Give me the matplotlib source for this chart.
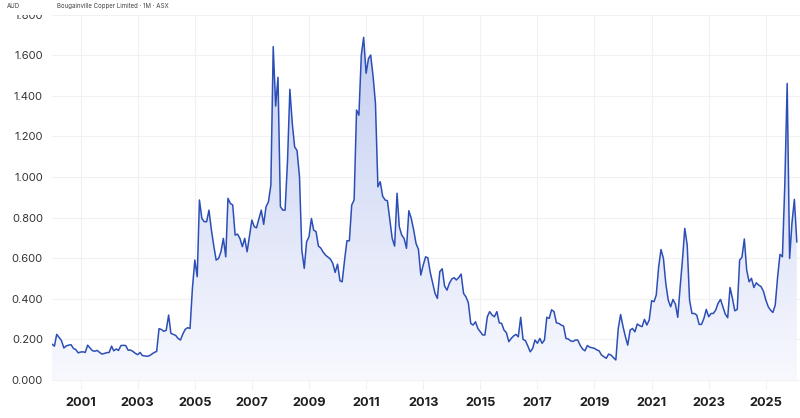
import matplotlib
matplotlib.use('Agg')
import matplotlib.pyplot as plt
import matplotlib.dates as mdates
from matplotlib.colors import LinearSegmentedColormap
from matplotlib.patches import Polygon, Rectangle
import numpy as np
import pandas as pd

plt.rcParams['font.family'] = ['Inter', 'DejaVu Sans']

# monthly closes (AUD), first month Jan 2000
start_month = '2000-01-01'
prices_2000s = [
    0.177, 0.167, 0.225, 0.210, 0.194, 0.158, 0.168, 0.172, 0.174, 0.156, 0.150, 0.134,
    0.138, 0.139, 0.136, 0.172, 0.158, 0.145, 0.142, 0.146, 0.136, 0.128, 0.131, 0.135,
    0.136, 0.167, 0.144, 0.153, 0.146, 0.170, 0.171, 0.170, 0.147, 0.148, 0.141, 0.132,
    0.125, 0.136, 0.121, 0.119, 0.117, 0.120, 0.128, 0.136, 0.141, 0.253, 0.249, 0.240,
    0.245, 0.320, 0.230, 0.225, 0.220, 0.205, 0.197, 0.227, 0.250, 0.258, 0.254, 0.450,
    0.591, 0.509, 0.887, 0.796, 0.780, 0.780, 0.837, 0.740, 0.660, 0.591, 0.599, 0.632,
    0.698, 0.607, 0.895, 0.870, 0.862, 0.714, 0.719, 0.698, 0.657, 0.698, 0.632, 0.710,
    0.788, 0.755, 0.750, 0.795, 0.837, 0.767, 0.854, 0.878, 0.961, 1.642, 1.350, 1.491,
    0.854, 0.837, 0.837, 1.080, 1.432, 1.264, 1.149, 1.130, 1.002, 0.640, 0.550, 0.681,
    0.706, 0.796, 0.739, 0.731, 0.660, 0.650, 0.630, 0.615, 0.605, 0.596, 0.575, 0.530,
]
prices_2010s = [
    0.571, 0.489, 0.484, 0.591, 0.686, 0.686, 0.862, 0.887, 1.330, 1.305, 1.601, 1.688,
    1.511, 1.584, 1.601, 1.494, 1.363, 0.952, 0.977, 0.906, 0.887, 0.883, 0.791, 0.698,
    0.660, 0.920, 0.755, 0.714, 0.698, 0.649, 0.834, 0.796, 0.739, 0.673, 0.643, 0.517,
    0.567, 0.607, 0.602, 0.530, 0.480, 0.427, 0.402, 0.534, 0.548, 0.463, 0.443, 0.476,
    0.498, 0.504, 0.493, 0.505, 0.522, 0.427, 0.410, 0.381, 0.279, 0.271, 0.287, 0.254,
    0.238, 0.222, 0.222, 0.312, 0.337, 0.320, 0.312, 0.337, 0.282, 0.279, 0.246, 0.233,
    0.189, 0.205, 0.217, 0.225, 0.213, 0.309, 0.200, 0.194, 0.167, 0.139, 0.156, 0.197,
    0.181, 0.205, 0.181, 0.197, 0.309, 0.304, 0.346, 0.337, 0.282, 0.279, 0.271, 0.266,
    0.205, 0.202, 0.193, 0.190, 0.197, 0.197, 0.172, 0.153, 0.144, 0.170, 0.162, 0.159,
    0.156, 0.148, 0.144, 0.123, 0.115, 0.107, 0.128, 0.123, 0.110, 0.099, 0.254, 0.323,
]
prices_2020s = [
    0.263, 0.213, 0.172, 0.246, 0.254, 0.238, 0.276, 0.268, 0.263, 0.299, 0.271, 0.296,
    0.391, 0.386, 0.419, 0.558, 0.643, 0.599, 0.476, 0.394, 0.361, 0.397, 0.374, 0.309,
    0.460, 0.600, 0.747, 0.665, 0.394, 0.328, 0.328, 0.320, 0.274, 0.274, 0.304, 0.348,
    0.312, 0.328, 0.328, 0.345, 0.378, 0.397, 0.361, 0.325, 0.307, 0.456, 0.402, 0.341,
    0.348, 0.591, 0.604, 0.695, 0.542, 0.484, 0.501, 0.456, 0.479, 0.468, 0.460, 0.438,
    0.394, 0.361, 0.345, 0.333, 0.369, 0.509, 0.619, 0.607, 0.968, 1.461, 0.599, 0.772,
    0.890, 0.681,
]
tick_years = list(range(2001, 2027, 2))
y_ticks = [0.0, 0.2, 0.4, 0.6, 0.8, 1.0, 1.2, 1.4, 1.6, 1.8]
currency = 'AUD'
title = 'Bougainville Copper Limited · 1M · ASX'

prices = np.array(prices_2000s + prices_2010s + prices_2020s)
dates = pd.date_range(start=start_month, periods=len(prices), freq='MS')
x = mdates.date2num(dates)

line_col = '#2c4fb6'

fig = plt.figure(figsize=(8, 4.18), dpi=100)
ax = fig.add_axes([52/800, 28/418, 748/800, 377/418])

# gradient fill under the curve
grad = np.linspace(0, 1, 256).reshape(-1, 1)
cmap = LinearSegmentedColormap.from_list('fill', ['#f8f9fe', '#c3cdf1'])
im = ax.imshow(grad, extent=[x[0], x[-1], 0, 1.75], origin='lower', aspect='auto',
               cmap=cmap, zorder=1, interpolation='bilinear')
verts = np.column_stack([np.r_[x[0], x, x[-1]], np.r_[0, prices, 0]])
poly = Polygon(verts, closed=True, facecolor='none', edgecolor='none')
ax.add_patch(poly)
im.set_clip_path(poly)

ax.plot(x, prices, color=line_col, lw=1.1, zorder=3)

ax.set_xlim(mdates.date2num(pd.Timestamp('2000-01-01')), mdates.date2num(pd.Timestamp('2026-03-14')))
ax.set_ylim(-0.049, 1.808)

ax.set_xticks([mdates.date2num(pd.Timestamp(f'{yr}-01-01')) for yr in tick_years])
ax.set_xticklabels([str(yr) for yr in tick_years], fontsize=9.2, fontweight='bold', color='#1f1f1f')
ax.set_yticks(y_ticks)
ax.set_yticklabels(['%.3f' % v for v in y_ticks], fontsize=8, color='#333333')
ax.tick_params(axis='y', length=0, pad=6.5)
ax.tick_params(axis='x', length=0, pad=5.4)
ax.grid(True, color='#f1f1f3', lw=0.8, zorder=0)
ax.set_axisbelow(True)
for s in ax.spines.values():
    s.set_visible(False)

# header band covers the top of the chart (and half of the 1.800 label)
fig.patches.append(Rectangle((0, 403/418), 1, 15/418, transform=fig.transFigure,
                             facecolor='white', edgecolor='none', zorder=10))
fig.text(7/800, 1 - 6/418, currency, fontsize=4.4, color='#444444', va='center', zorder=11)
fig.text(57/800, 1 - 6/418, title, fontsize=4.4, color='#444444', va='center', zorder=11)

fig.savefig('out.png', dpi=100)
